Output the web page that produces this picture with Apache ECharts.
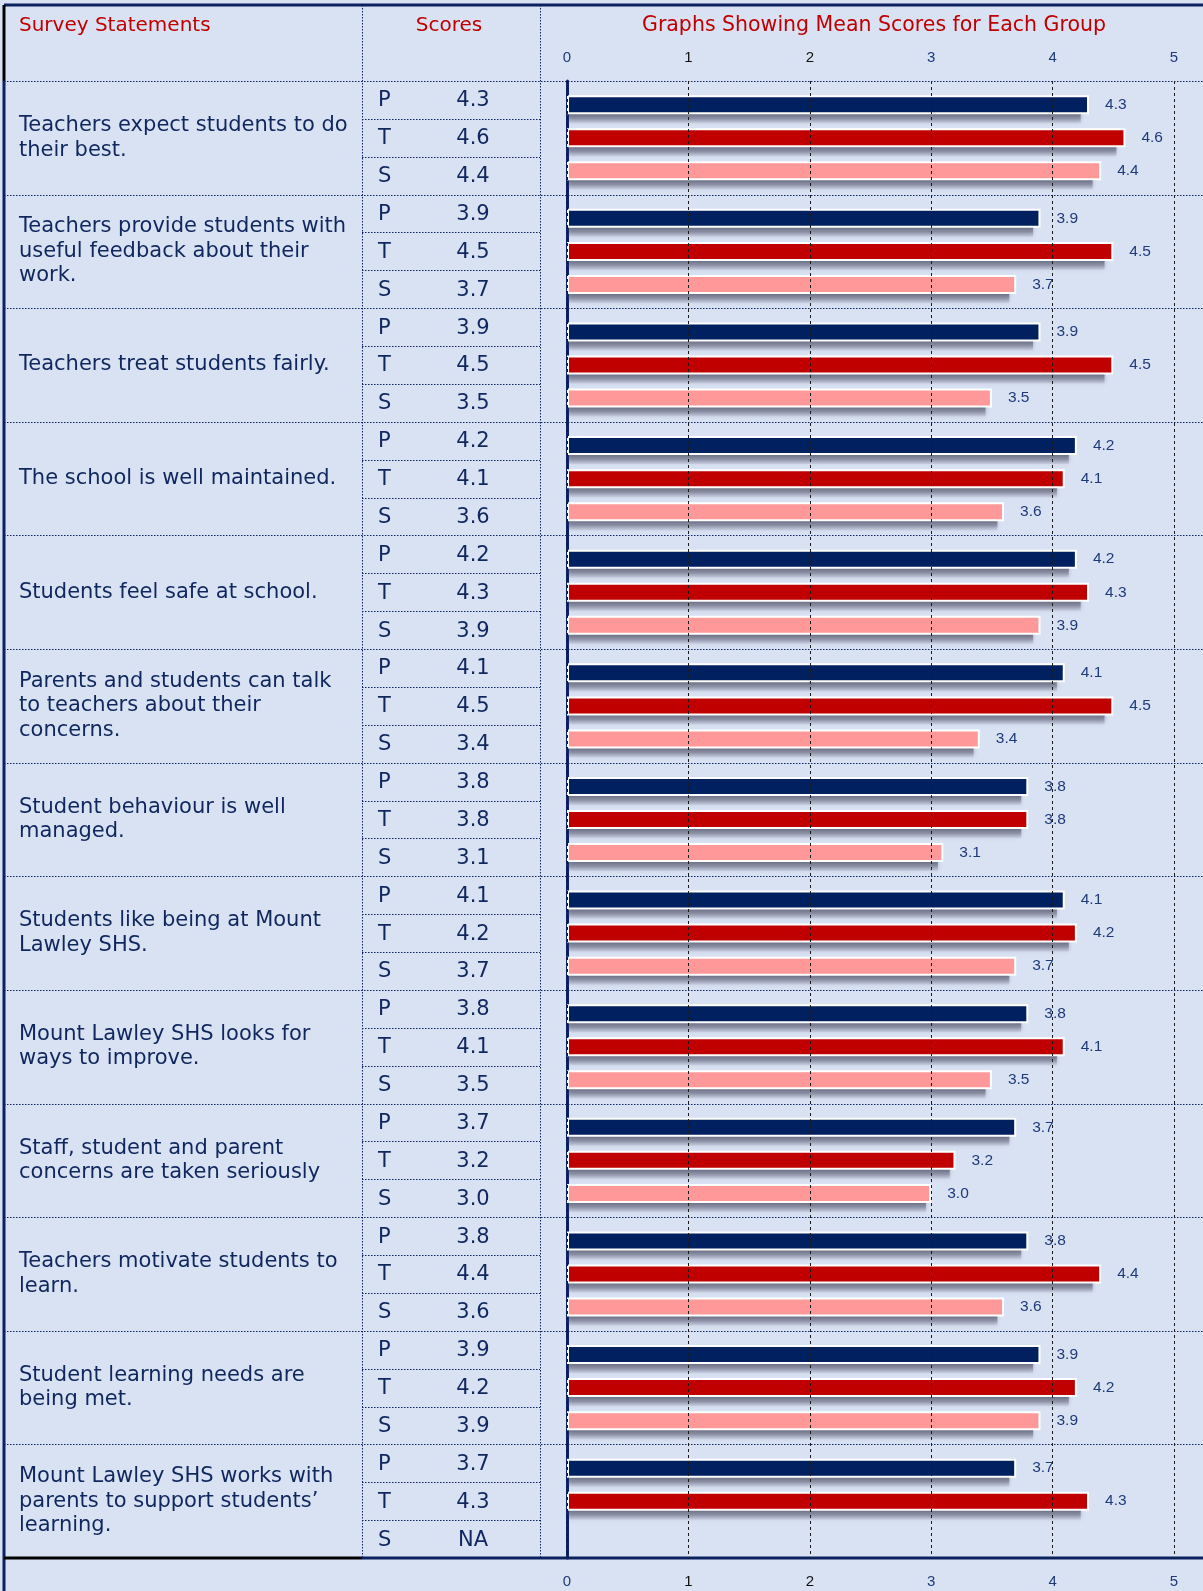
<!DOCTYPE html>
<html>
<head>
<meta charset="utf-8">
<script src="https://cdn.jsdelivr.net/npm/echarts@6/dist/echarts.min.js"></script>
<style>
  html, body { margin: 0; padding: 0; background: #d9e2f3; }
  #chart { width: 1203px; height: 1591px; }
</style>
</head>
<body>
<div id="chart"></div>
<script>
// survey statements (line breaks as printed)
const statements = [
  'Teachers expect students to do\ntheir best.',
  'Teachers provide students with\nuseful feedback about their\nwork.',
  'Teachers treat students fairly.',
  'The school is well maintained.',
  'Students feel safe at school.',
  'Parents and students can talk\nto teachers about their\nconcerns.',
  'Student behaviour is well\nmanaged.',
  'Students like being at Mount\nLawley SHS.',
  'Mount Lawley SHS looks for\nways to improve.',
  'Staff, student and parent\nconcerns are taken seriously',
  'Teachers motivate students to\nlearn.',
  'Student learning needs are\nbeing met.',
  'Mount Lawley SHS works with\nparents to support students\u2019\nlearning.'
]
const groups = ['P', 'T', 'S']
// mean scores per group (null = NA)
const parents = [4.3, 3.9, 3.9, 4.2, 4.2, 4.1, 3.8, 4.1, 3.8, 3.7, 3.8, 3.9, 3.7]
const teachers = [4.6, 4.5, 4.5, 4.1, 4.3, 4.5, 3.8, 4.2, 4.1, 3.2, 4.4, 4.2, 4.3]
const students = [4.4, 3.7, 3.5, 3.6, 3.9, 3.4, 3.1, 3.7, 3.5, 3.0, 3.6, 3.9, null]
const ticks = [0, 1, 2, 3, 4, 5]
const barColors = ['#002060', '#c00000', '#ff9999']

const NAVY = '#0b2160'
const TXT = '#10275e'
const RED = '#c00000'
const FONT = '"DejaVu Sans", Verdana, sans-serif'
const SANS = '"Liberation Sans", Arial, sans-serif'

// layout
const TOP = 81
const BOTTOM = 1558
const ROW = (BOTTOM - TOP) / statements.length
const COL1 = 362
const COL2 = 540
const SHADOW = 9 // drop of the grey shadow under each bar

let graphic = []
function line (x1, y1, x2, y2, color, w, dash) {
  graphic.push({
    type: 'line',
    silent: true,
    z: 1,
    shape: {x1: x1, y1: y1, x2: x2, y2: y2},
    style: {stroke: color, lineWidth: w, lineDash: dash || null}
  })
}
function text (x, y, s, color, align, size) {
  graphic.push({
    type: 'text',
    silent: true,
    x: x,
    y: y,
    style: {text: s, fill: color, fontSize: size || 20, fontFamily: FONT, align: align, verticalAlign: 'middle'}
  })
}

// header
text(19, 26, 'Survey Statements', RED, 'left')
text(449, 26, 'Scores', RED, 'center')
text(874, 26, 'Graphs Showing Mean Scores for Each Group', RED, 'center', 20.5)

// table rules
const dot = [1.5, 1.5]
line(COL1 + 0.5, 5, COL1 + 0.5, BOTTOM, NAVY, 1, dot)
line(COL2 + 0.5, 5, COL2 + 0.5, BOTTOM, NAVY, 1, dot)
for (let i = 0; i < statements.length; i++) {
  let y0 = Math.round(TOP + i * ROW) + 0.5
  line(4, y0, 1203, y0, NAVY, 1, dot)
  for (let k = 1; k < 3; k++) {
    let ys = Math.round(TOP + i * ROW + k * ROW / 3) + 0.5
    line(COL1, ys, COL2, ys, NAVY, 1, dot)
  }
  let vals = [parents[i], teachers[i], students[i]]
  for (let k = 0; k < 3; k++) {
    let yc = TOP + i * ROW + (k + 0.5) * ROW / 3 + 1
    text(378, yc, groups[k], TXT, 'left', 21)
    text(473, yc, vals[k] === null ? 'NA' : vals[k].toFixed(1), TXT, 'center', 21)
  }
}
line(4, 5, 1203, 5, NAVY, 3)
line(4, 5, 4, TOP, '#000', 3)
line(4, TOP, 4, 1591, NAVY, 3)
line(4, BOTTOM, COL1, BOTTOM, '#000', 3)
line(COL1, BOTTOM, 1203, BOTTOM, NAVY, 3)

function tickColor (v) {
  return (v === '1' || v === '2' || v === 1 || v === 2) ? '#111' : '#1f3a7a'
}

function valueAxis (pos, grid, show) {
  return {
    type: 'value',
    gridIndex: grid,
    show: show,
    position: pos,
    min: ticks[0],
    max: ticks[ticks.length - 1],
    interval: 1,
    axisLine: {show: false},
    axisTick: {show: false},
    axisLabel: {margin: 16, fontSize: 15, fontFamily: SANS, color: tickColor},
    splitLine: {show: false}
  }
}
let xTop = valueAxis('top', 0, true)
let xBottom = valueAxis('bottom', 0, true)
// dashed grid lines sit on top of the bars
xBottom.z = 6
xBottom.splitLine = {show: true, lineStyle: {color: '#1a1a1a', width: 1, type: [3, 3]}}
let xShadow = valueAxis('bottom', 1, false)

let barLabel = {
  show: true,
  position: 'right',
  distance: 16,
  color: '#1f3a7a',
  fontSize: 15.5,
  fontFamily: SANS,
  formatter: (p) => p.value === null ? '' : p.value.toFixed(1)
}
let shadowFill = new echarts.graphic.LinearGradient(0, 0, 0, 1, [
  {offset: 0, color: 'rgba(70,72,95,0.95)'},
  {offset: 0.5, color: 'rgba(95,98,120,0.85)'},
  {offset: 0.75, color: 'rgba(125,128,150,0.7)'},
  {offset: 1, color: 'rgba(175,180,200,0.3)'}
])

let series = []
let seriesData = [parents, teachers, students]
seriesData.forEach(function (d, k) {
  series.push({
    name: groups[k] + ' shadow',
    type: 'bar',
    xAxisIndex: 2,
    yAxisIndex: 1,
    data: d,
    barWidth: 19,
    barGap: '74%',
    silent: true,
    z: 2,
    itemStyle: {color: shadowFill, shadowColor: 'rgba(90,92,115,0.45)', shadowBlur: 4}
  })
})
seriesData.forEach(function (d, k) {
  series.push({
    name: groups[k],
    type: 'bar',
    xAxisIndex: 0,
    yAxisIndex: 0,
    data: d,
    barWidth: 19,
    barGap: '74%',
    z: 3,
    label: barLabel,
    itemStyle: {color: barColors[k], borderColor: '#ffffff', borderWidth: 2}
  })
})

let option = {
  backgroundColor: '#d9e2f3',
  animation: false,
  grid: [
    {left: 567, right: 29, top: TOP, bottom: 1591 - BOTTOM},
    {left: 569, right: 39, top: TOP + SHADOW, bottom: 1591 - BOTTOM - SHADOW}
  ],
  xAxis: [xTop, xBottom, xShadow],
  yAxis: [{
    type: 'category',
    gridIndex: 0,
    inverse: true,
    data: statements,
    axisLine: {show: true, lineStyle: {color: NAVY, width: 3}},
    axisTick: {show: false},
    splitLine: {show: false},
    axisLabel: {
      interval: 0,
      align: 'left',
      margin: 548,
      color: TXT,
      fontSize: 21,
      lineHeight: 24.5,
      fontFamily: FONT
    }
  }, {
    type: 'category',
    gridIndex: 1,
    inverse: true,
    show: false,
    data: statements
  }],
  graphic: graphic,
  series: series
}

let chart = echarts.init(document.getElementById('chart'))
chart.setOption(option)
</script>
</body>
</html>
